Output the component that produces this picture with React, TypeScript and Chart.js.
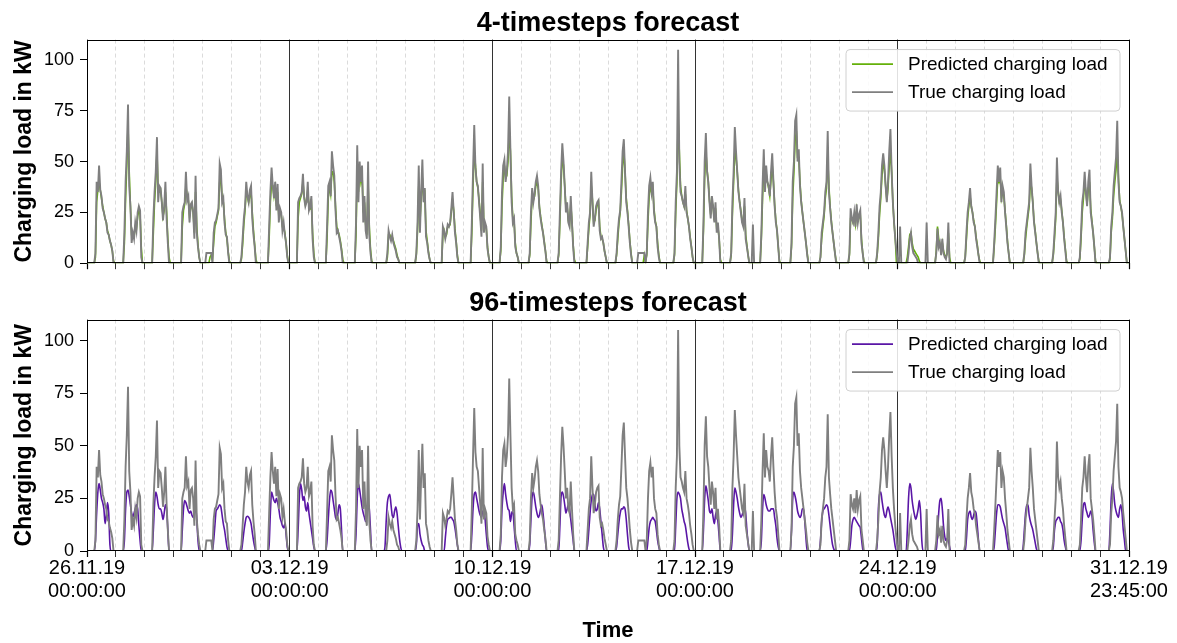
import React, { useEffect, useRef } from "react";
import { Chart, registerables } from "chart.js";

Chart.register(...registerables);

const FONT = "'Liberation Sans', Arial, Helvetica, sans-serif";

// ---------- axis / tick data ----------
const DAY_COUNT = 36;
const HOURS_PER_DAY = 24;
const FIRST_ACTIVE_HOUR = 6; // each day array holds hourly values for 06:00 .. 22:00
const X_MAX = 863.75; // 31.12.19 23:45 in hours since 26.11.19 00:00
const Y_MAX = 110;
const Y_TICKS = [0, 25, 50, 75, 100];
const MAJOR_TICK_HOURS = [0, 168, 336, 504, 672, 863.75];
const MAJOR_TICK_DATES = ["26.11.19", "03.12.19", "10.12.19", "17.12.19", "24.12.19", "31.12.19"];
const MAJOR_TICK_TIMES = ["00:00:00", "00:00:00", "00:00:00", "00:00:00", "00:00:00", "23:45:00"];

const LABEL_PRED = "Predicted charging load";
const LABEL_TRUE = "True charging load";

// ---------- series data (kW, hourly 06:00..22:00 per day) ----------
const TRUE_LOAD = [
  [0, 5, 40, 35, 48, 36, 33, 27, 25, 22, 20, 15, 14, 11, 9, 6, 0],
  [0, 15, 40, 55, 78, 38, 28, 10, 15, 12, 20, 16, 25, 28, 26, 3, 0],
  [0, 22, 35, 45, 62, 30, 38, 37, 30, 21, 28, 40, 22, 10, 0, 0, 0],
  [0, 25, 28, 30, 45, 31, 33, 20, 29, 30, 25, 12, 43, 15, 8, 3, 0],
  [5, 5, 0, 15, 20, 21, 24, 27, 49, 46, 30, 32, 20, 14, 13, 5, 0],
  [0, 0, 3, 12, 22, 28, 40, 33, 30, 36, 38, 22, 14, 8, 0, 0, 0],
  [0, 18, 35, 47, 38, 32, 40, 26, 39, 20, 27, 25, 16, 20, 14, 10, 3],
  [0, 30, 32, 33, 35, 44, 32, 28, 30, 40, 26, 28, 33, 12, 3, 0, 0],
  [0, 18, 38, 40, 33, 55, 48, 43, 26, 15, 16, 13, 10, 6, 0, 0, 0],
  [0, 20, 58, 30, 50, 40, 48, 20, 33, 16, 12, 50, 14, 5, 0, 0, 0],
  [0, 0, 0, 5, 16, 13, 11, 14, 10, 8, 6, 3, 2, 0, 0, 0, 0],
  [0, 0, 0, 5, 20, 48, 15, 35, 51, 30, 37, 13, 10, 5, 2, 0, 0],
  [0, 18, 16, 12, 15, 19, 18, 20, 27, 35, 25, 15, 10, 3, 0, 0, 0],
  [0, 20, 45, 68, 47, 40, 38, 30, 22, 13, 49, 15, 20, 18, 7, 3, 0],
  [0, 8, 35, 48, 51, 40, 45, 55, 82, 55, 30, 20, 22, 8, 5, 3, 0],
  [0, 5, 25, 37, 30, 34, 40, 43, 38, 27, 22, 18, 15, 10, 6, 0, 0],
  [0, 5, 25, 45, 59, 50, 38, 25, 30, 20, 18, 33, 20, 8, 0, 0, 0],
  [0, 10, 20, 25, 45, 30, 18, 22, 28, 30, 31, 16, 12, 13, 10, 6, 3],
  [0, 5, 15, 22, 26, 40, 55, 61, 45, 30, 25, 18, 10, 4, 0, 0, 0],
  [5, 0, 5, 25, 38, 42, 35, 40, 25, 20, 18, 8, 3, 0, 0, 0, 0],
  [0, 5, 30, 45, 105, 50, 35, 33, 30, 28, 38, 25, 22, 18, 12, 8, 3],
  [0, 20, 50, 64, 45, 40, 30, 22, 33, 28, 20, 30, 15, 20, 12, 0, 0],
  [5, 30, 45, 67, 55, 45, 35, 30, 25, 20, 18, 32, 12, 8, 4, 0, 0],
  [0, 15, 38, 56, 35, 48, 40, 38, 33, 45, 54, 40, 28, 20, 16, 8, 0],
  [0, 0, 10, 40, 50, 70, 73, 50, 56, 38, 30, 25, 20, 15, 10, 4, 0],
  [0, 0, 3, 15, 20, 25, 35, 40, 65, 35, 27, 20, 15, 10, 5, 0, 0],
  [0, 0, 5, 27, 22, 20, 25, 18, 29, 20, 24, 26, 10, 5, 0, 0, 0],
  [0, 5, 15, 28, 35, 48, 54, 48, 38, 30, 40, 55, 66, 45, 30, 20, 12],
  [0, 0, 0, 5, 12, 15, 8, 5, 4, 3, 2, 0, 0, 0, 0, 0, 0],
  [0, 0, 5, 17, 8, 10, 4, 12, 5, 3, 2, 5, 20, 0, 0, 0, 0],
  [0, 0, 3, 15, 25, 30, 37, 28, 25, 20, 18, 12, 8, 4, 0, 0, 0],
  [0, 0, 10, 22, 35, 48, 40, 47, 30, 38, 35, 25, 18, 10, 5, 0, 0],
  [0, 0, 0, 5, 15, 20, 25, 30, 49, 38, 30, 20, 15, 10, 5, 0, 0],
  [0, 0, 0, 5, 15, 25, 52, 35, 30, 33, 25, 20, 12, 6, 0, 0, 0],
  [0, 3, 15, 30, 35, 45, 35, 28, 40, 46, 25, 20, 15, 8, 0, 0, 0],
  [0, 0, 3, 18, 25, 38, 45, 52, 70, 40, 30, 28, 25, 18, 12, 6, 0],
];

// [day, hour, kW] readings outside the 06..22 window
const TRUE_LOAD_EXTRA = [
  [4, 3, 5], [4, 4, 5], [4, 5, 5],
  [19, 1, 5], [19, 2, 5], [19, 3, 5], [19, 4, 5], [19, 5, 5],
  [23, 0, 19], [27, 23, 6], [28, 2, 18], [29, 0, 20],
];

const PRED_4_STEPS = [
  [0, 3, 30, 36, 40, 36, 32, 28, 25, 22, 20, 16, 14, 11, 9, 6, 1],
  [0, 10, 32, 48, 68, 45, 28, 14, 14, 13, 18, 17, 23, 26, 24, 8, 0],
  [0, 15, 30, 40, 55, 35, 35, 36, 30, 23, 26, 35, 25, 12, 3, 0, 0],
  [0, 18, 26, 29, 38, 33, 31, 23, 27, 29, 25, 15, 35, 18, 9, 3, 0],
  [3, 4, 2, 10, 18, 20, 23, 26, 40, 42, 32, 30, 22, 15, 12, 6, 1],
  [0, 0, 2, 9, 19, 26, 35, 33, 30, 33, 35, 25, 16, 9, 2, 0, 0],
  [0, 12, 30, 40, 38, 33, 37, 28, 35, 23, 26, 24, 18, 18, 15, 10, 4],
  [0, 22, 30, 32, 34, 40, 33, 29, 30, 36, 28, 27, 30, 15, 5, 0, 0],
  [0, 12, 32, 38, 34, 45, 45, 40, 28, 18, 16, 14, 11, 7, 2, 0, 0],
  [0, 14, 45, 35, 45, 40, 44, 25, 30, 19, 14, 40, 18, 7, 1, 0, 0],
  [0, 0, 0, 3, 14, 14, 12, 13, 11, 9, 7, 4, 2, 0, 0, 0, 0],
  [0, 0, 0, 4, 16, 38, 20, 32, 42, 32, 34, 16, 11, 6, 2, 0, 0],
  [0, 14, 16, 13, 14, 18, 18, 19, 25, 31, 26, 17, 11, 4, 0, 0, 0],
  [0, 15, 38, 55, 48, 40, 37, 31, 24, 16, 40, 18, 19, 17, 8, 3, 0],
  [0, 6, 28, 42, 48, 42, 43, 50, 65, 55, 33, 22, 21, 10, 5, 3, 0],
  [0, 4, 20, 33, 31, 33, 38, 40, 37, 28, 23, 19, 15, 11, 6, 1, 0],
  [0, 4, 20, 40, 52, 48, 38, 27, 28, 21, 19, 29, 21, 9, 2, 0, 0],
  [0, 8, 17, 24, 38, 31, 20, 21, 26, 29, 30, 18, 13, 12, 10, 6, 3],
  [0, 4, 12, 20, 25, 35, 48, 55, 45, 32, 26, 19, 11, 5, 0, 0, 0],
  [4, 1, 4, 20, 33, 38, 35, 37, 27, 21, 18, 10, 4, 0, 0, 0, 0],
  [0, 4, 25, 40, 70, 55, 38, 33, 30, 28, 34, 26, 22, 18, 13, 8, 3],
  [0, 16, 42, 55, 46, 40, 31, 24, 30, 28, 21, 27, 17, 18, 12, 2, 0],
  [4, 24, 40, 55, 52, 45, 36, 30, 26, 21, 19, 28, 14, 9, 4, 0, 0],
  [0, 12, 32, 48, 38, 44, 40, 37, 33, 41, 48, 40, 29, 21, 16, 8, 1],
  [0, 0, 8, 32, 45, 60, 65, 52, 52, 40, 31, 25, 20, 15, 10, 5, 0],
  [0, 0, 3, 12, 18, 23, 32, 37, 52, 38, 28, 21, 15, 10, 5, 1, 0],
  [0, 0, 4, 22, 22, 20, 23, 19, 26, 21, 23, 24, 12, 5, 1, 0, 0],
  [0, 4, 12, 24, 32, 43, 50, 46, 38, 31, 37, 48, 55, 45, 30, 20, 12],
  [0, 0, 3, 8, 14, 15, 10, 7, 6, 5, 4, 3, 1, 0, 0, 0, 0],
  [0, 0, 6, 18, 12, 9, 6, 10, 6, 4, 3, 5, 15, 3, 0, 0, 0],
  [0, 0, 3, 12, 22, 28, 33, 28, 25, 21, 18, 13, 9, 4, 1, 0, 0],
  [0, 0, 8, 18, 30, 42, 40, 42, 32, 35, 33, 26, 19, 11, 5, 0, 0],
  [0, 0, 0, 4, 12, 18, 23, 28, 40, 37, 30, 21, 16, 10, 5, 1, 0],
  [0, 0, 0, 4, 12, 22, 42, 36, 30, 31, 26, 20, 13, 7, 1, 0, 0],
  [0, 2, 12, 25, 32, 40, 35, 29, 36, 40, 27, 21, 15, 8, 1, 0, 0],
  [0, 0, 2, 15, 22, 33, 40, 46, 55, 42, 31, 28, 24, 18, 12, 6, 0],
];

const PRED_96_STEPS = [
  [0, 5, 18, 28, 32, 29, 25, 23, 20, 13, 17, 23, 18, 3, 0, 0, 0],
  [0, 5, 20, 28, 29, 26, 22, 18, 16, 18, 20, 22, 20, 12, 5, 0, 0],
  [0, 10, 22, 28, 26, 22, 20, 20, 18, 15, 18, 22, 20, 10, 0, 0, 0],
  [0, 10, 20, 24, 23, 21, 19, 18, 19, 17, 16, 18, 21, 15, 5, 0, 0],
  [0, 0, 0, 5, 12, 19, 20, 21, 22, 21, 17, 13, 10, 6, 2, 0, 0],
  [0, 0, 0, 4, 9, 13, 16, 16.5, 16, 15, 13, 9, 5, 2, 0, 0, 0],
  [0, 3, 18, 28, 26, 24, 23, 25, 23, 20, 16, 14, 12, 11, 13, 8, 2],
  [0, 10, 25, 32, 29, 24, 26, 21, 19, 23, 18, 14, 10, 6, 2, 0, 0],
  [0, 5, 15, 24, 29, 28, 24, 20, 16, 15, 18, 22, 20, 10, 0, 0, 0],
  [0, 8, 25, 32, 29, 25, 21, 18, 16, 14, 17, 22, 20, 10, 0, 0, 0],
  [0, 2, 14, 23, 26, 27, 22, 17, 16, 19, 21, 18, 12, 6, 2, 0, 0],
  [0, 0, 0, 3, 12, 13, 8, 5, 3, 2, 0, 0, 0, 0, 0, 0, 0],
  [0, 0, 0, 6, 12, 15, 15.5, 16, 16, 15, 14, 11, 7, 3, 0, 0, 0],
  [0, 8, 20, 27, 28, 25, 22, 19, 17, 16, 19, 19, 15, 8, 2, 0, 0],
  [0, 5, 20, 28, 32, 27, 23, 20, 19, 14, 18, 19, 12, 5, 0, 0, 0],
  [0, 3, 15, 26, 28, 25, 21, 18, 16, 17, 20, 22, 18, 12, 5, 0, 0],
  [0, 0, 12, 26, 28, 26, 22, 18, 20, 22, 20, 15, 10, 5, 0, 0, 0],
  [0, 3, 10, 18, 24, 27, 27, 22, 19, 20, 23, 20, 14, 8, 2, 0, 0],
  [0, 2, 8, 14, 18, 20, 20, 21, 20, 15, 8, 2, 0, 0, 0, 0, 0],
  [0, 0, 0, 5, 11, 14, 15, 16, 15, 14, 10, 5, 2, 0, 0, 0, 0],
  [0, 0, 12, 25, 28, 27, 25, 20, 17, 14, 12, 8, 4, 1, 0, 0, 0],
  [0, 10, 25, 31, 28, 24, 19, 18, 20, 16, 13, 17, 19, 14, 7, 0, 0],
  [0, 8, 22, 30, 28, 25, 21, 18, 16, 17, 19, 21, 18, 10, 4, 0, 0],
  [0, 5, 20, 27, 25, 22, 20, 19, 19, 20, 20, 20, 16, 12, 6, 2, 0],
  [0, 0, 10, 25, 28, 26, 23, 19, 17, 16, 17, 20, 20, 14, 6, 0, 0],
  [0, 0, 5, 14, 19, 20, 21, 22, 21, 17, 12, 7, 3, 1, 0, 0, 0],
  [0, 0, 0, 5, 12, 15, 16, 15, 14, 13, 12, 11, 6, 1, 0, 0, 0],
  [0, 3, 20, 27, 28, 24, 20, 17, 16, 19, 21, 19, 16, 13, 10, 6, 2],
  [0, 0, 10, 25, 32, 30, 24, 20, 17, 15, 17, 20, 24, 18, 5, 0, 0],
  [0, 0, 0, 8, 18, 24, 25, 20, 12, 7, 5, 6, 5, 2, 0, 0, 0],
  [0, 0, 0, 6, 15, 18, 19, 16, 15, 17, 19, 18, 12, 5, 0, 0, 0],
  [0, 0, 2, 10, 18, 22, 22, 21, 18, 15, 13, 11, 7, 3, 0, 0, 0],
  [0, 0, 2, 10, 18, 22, 22, 17, 14, 12, 10, 7, 4, 1, 0, 0, 0],
  [0, 0, 0, 2, 10, 14, 15, 16, 16, 14, 13, 10, 5, 2, 0, 0, 0],
  [0, 0, 5, 15, 22, 23, 20, 18, 16, 17, 19, 17, 10, 4, 0, 0, 0],
  [0, 0, 10, 25, 32, 28, 22, 19, 17, 16, 20, 22, 18, 10, 5, 0, 0],
];

// ---------- helpers ----------
function buildSeries(days: number[][], extra: number[][] = []) {
  const pts: { x: number; y: number }[] = [];
  for (let d = 0; d < DAY_COUNT; d++) {
    for (let h = 0; h < HOURS_PER_DAY; h++) {
      const i = h - FIRST_ACTIVE_HOUR;
      const v = i >= 0 && i < days[d].length ? days[d][i] : 0;
      pts.push({ x: d * HOURS_PER_DAY + h, y: v });
    }
  }
  for (const [d, h, v] of extra) pts[d * HOURS_PER_DAY + h].y = v;
  pts.push({ x: X_MAX, y: 0 });
  return pts;
}

const DAY_TICKS: number[] = [];
for (let d = 0; d < DAY_COUNT; d++) DAY_TICKS.push(d * HOURS_PER_DAY);
DAY_TICKS.push(X_MAX);

const isMajor = (v: any) => typeof v === "number" && MAJOR_TICK_HOURS.indexOf(v) >= 0;

const framePlugin = {
  id: "frame",
  afterDatasetsDraw(chart: any) {
    const { ctx, chartArea: a } = chart;
    ctx.save();
    ctx.strokeStyle = "#000";
    ctx.lineWidth = 1;
    const l = Math.round(a.left) + 0.5;
    const t = Math.round(a.top) + 0.5;
    const r = Math.round(a.right) + 0.5;
    const b = Math.round(a.bottom) - 0.5;
    ctx.strokeRect(l, t, r - l, b - t);
    ctx.restore();
  },
};

const boxLegendPlugin = {
  id: "boxLegend",
  afterDraw(chart: any) {
    const { ctx, chartArea: a } = chart;
    const ds = chart.data.datasets;
    const items = [ds[1], ds[0]]; // predicted first, true second
    const x0 = a.right - 283;
    const y0 = a.top + 10;
    const w = 274;
    const h = 61.5;
    const r = 4;
    ctx.save();
    ctx.beginPath();
    ctx.moveTo(x0 + r, y0);
    ctx.lineTo(x0 + w - r, y0);
    ctx.quadraticCurveTo(x0 + w, y0, x0 + w, y0 + r);
    ctx.lineTo(x0 + w, y0 + h - r);
    ctx.quadraticCurveTo(x0 + w, y0 + h, x0 + w - r, y0 + h);
    ctx.lineTo(x0 + r, y0 + h);
    ctx.quadraticCurveTo(x0, y0 + h, x0, y0 + h - r);
    ctx.lineTo(x0, y0 + r);
    ctx.quadraticCurveTo(x0, y0, x0 + r, y0);
    ctx.closePath();
    ctx.fillStyle = "rgba(255,255,255,0.85)";
    ctx.fill();
    ctx.strokeStyle = "#d0d0d0";
    ctx.lineWidth = 1;
    ctx.stroke();
    ctx.font = `19px ${FONT}`;
    ctx.textBaseline = "middle";
    ctx.textAlign = "left";
    items.forEach((it: any, i: number) => {
      const yy = y0 + 14.5 + i * 28;
      ctx.strokeStyle = it.borderColor;
      ctx.lineWidth = 1.7;
      ctx.beginPath();
      ctx.moveTo(x0 + 6, yy);
      ctx.lineTo(x0 + 47, yy);
      ctx.stroke();
      ctx.fillStyle = "#000";
      ctx.fillText(it.label, x0 + 62, yy + 1);
    });
    ctx.restore();
  },
};

function makeConfig(title: string, predColor: string, predData: number[][], smooth: boolean, bottom: boolean): any {
  return {
    type: "line",
    data: {
      datasets: [
        {
          label: LABEL_TRUE,
          data: buildSeries(TRUE_LOAD, TRUE_LOAD_EXTRA),
          borderColor: "#7f7f7f",
          borderWidth: 1.9,
          pointRadius: 0,
          fill: false,
          order: 0,
          parsing: false,
        },
        {
          label: LABEL_PRED,
          data: buildSeries(predData),
          borderColor: predColor,
          borderWidth: 1.6,
          pointRadius: 0,
          fill: false,
          order: 1,
          parsing: false,
          cubicInterpolationMode: smooth ? "monotone" : "default",
        },
      ],
    },
    options: {
      responsive: false,
      animation: false,
      events: [],
      layout: { padding: { left: 0, right: 48, top: 0, bottom: 0 } },
      plugins: {
        legend: { display: false },
        tooltip: { enabled: false },
        title: {
          display: true,
          text: title,
          color: "#000",
          fullSize: false,
          font: { size: 27, weight: "bold", family: FONT, lineHeight: 1.15 },
          padding: { top: 8.5, bottom: 0 },
        },
      },
      scales: {
        x: {
          type: "linear",
          min: 0,
          max: X_MAX,
          afterBuildTicks: (s: any) => {
            s.ticks = DAY_TICKS.map((v) => ({ value: v }));
          },
          afterFit: (s: any) => {
            s.height = bottom ? 92 : 9;
          },
          ticks: {
            display: bottom,
            autoSkip: false,
            maxRotation: 0,
            minRotation: 0,
            padding: 0,
            color: "#000",
            font: { size: 20, family: FONT, lineHeight: 1.15 },
            callback: (v: any) => {
              const i = MAJOR_TICK_HOURS.indexOf(v);
              return i >= 0 ? [MAJOR_TICK_DATES[i], MAJOR_TICK_TIMES[i]] : "";
            },
          },
          grid: {
            color: (c: any) => (isMajor(c.tick && c.tick.value) ? "#333333" : "#d2d2d2"),
            lineWidth: (c: any) => (isMajor(c.tick && c.tick.value) ? 1 : 0.8),
            drawTicks: true,
            tickLength: 6,
            tickColor: "#000",
            tickWidth: (c: any) => (isMajor(c.tick && c.tick.value) ? 1.2 : 0.8),
          },
          border: {
            display: false,
            dash: (c: any) => (c.type === "tick" && !isMajor(c.tick && c.tick.value) ? [4, 3] : []),
          },
          title: bottom
            ? {
                display: true,
                text: "Time",
                color: "#000",
                font: { size: 22, weight: "bold", family: FONT, lineHeight: 1 },
                padding: { top: 0, bottom: 1 },
              }
            : { display: false },
        },
        y: {
          min: 0,
          max: Y_MAX,
          afterBuildTicks: (s: any) => {
            s.ticks = Y_TICKS.map((v) => ({ value: v }));
          },
          afterFit: (s: any) => {
            s.width = 87;
          },
          ticks: { color: "#000", font: { size: 18, family: FONT }, padding: 6 },
          grid: { drawOnChartArea: false, drawTicks: true, tickLength: 7, tickColor: "#000", tickWidth: 1 },
          border: { display: false },
          title: {
            display: true,
            text: "Charging load in kW",
            color: "#000",
            font: { size: 23, weight: "bold", family: FONT, lineHeight: 1.2 },
            padding: { top: 11, bottom: 0 },
          },
        },
      },
    },
    plugins: [framePlugin, boxLegendPlugin],
  };
}

export default function App() {
  const topRef = useRef<HTMLCanvasElement>(null);
  const botRef = useRef<HTMLCanvasElement>(null);

  useEffect(() => {
    Chart.defaults.font.family = FONT;
    const c1 = new Chart(topRef.current as HTMLCanvasElement, makeConfig("4-timesteps forecast", "#64b00a", PRED_4_STEPS, false, false));
    const c2 = new Chart(botRef.current as HTMLCanvasElement, makeConfig("96-timesteps forecast", "#5a16a6", PRED_96_STEPS, true, true));
    return () => {
      c1.destroy();
      c2.destroy();
    };
  }, []);

  return (
    <div style={{ position: "absolute", left: 0, top: 0, width: 1177, height: 643, background: "#fff" }}>
      <canvas ref={topRef} width={1177} height={280} style={{ display: "block" }} />
      <canvas ref={botRef} width={1177} height={363} style={{ display: "block" }} />
    </div>
  );
}
